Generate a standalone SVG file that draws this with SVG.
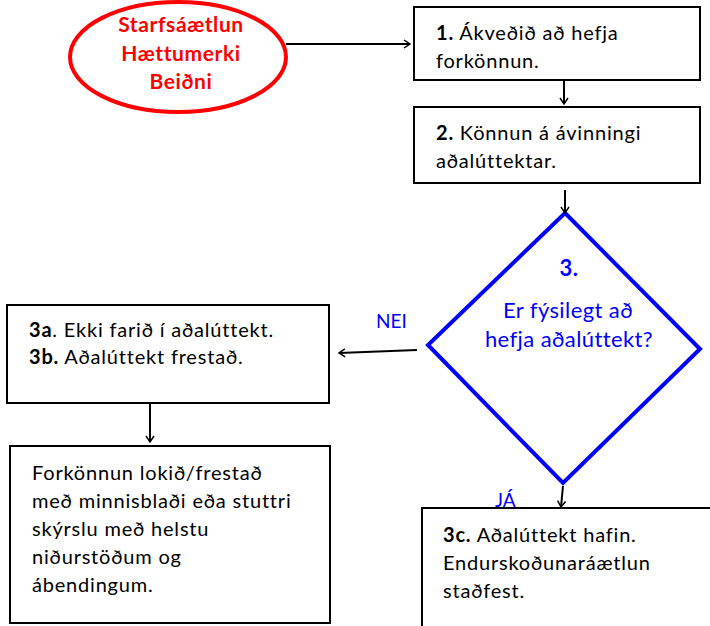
<svg xmlns="http://www.w3.org/2000/svg" width="710" height="626" viewBox="0 0 710 626">
<style>
  .box { fill: #ffffff; stroke: #000000; stroke-width: 2; }
  .t { font-family: Lato, "Open Sans", "DejaVu Sans", sans-serif; font-size: 20px; letter-spacing: 0.8px; fill: #000000; }
  .b { font-weight: bold; }
  .red { font-family: Lato, "Liberation Sans", sans-serif; font-size: 21px; letter-spacing: 0.6px; font-weight: bold; fill: #ff0000; text-anchor: middle; }
  .blue { font-family: Lato, "Open Sans", "DejaVu Sans", sans-serif; font-size: 22px; letter-spacing: 0.4px; fill: #0000ff; text-anchor: middle; }
  .lbl { font-family: Lato, "Open Sans", "DejaVu Sans", sans-serif; font-size: 19px; fill: #0000ff; }
  .conn { stroke: #000000; stroke-width: 2; fill: none; marker-end: url(#arr); }
</style>
<defs>
  <marker id="arr" markerUnits="userSpaceOnUse" markerWidth="12" markerHeight="12" refX="9" refY="5" orient="auto">
    <path d="M3,1 L9,5 L3,9" fill="none" stroke="#000000" stroke-width="1.5"/>
  </marker>
</defs>
<rect width="710" height="626" fill="#ffffff"/>

<g id="start">
  <ellipse cx="178" cy="57" rx="108" ry="55" fill="#ffffff" stroke="#ff0000" stroke-width="4"/>
  <text class="red" x="181" y="32">Starfsáætlun</text>
  <text class="red" x="181" y="61">Hættumerki</text>
  <text class="red" x="181" y="89">Beiðni</text>
</g>

<g id="step1">
  <rect class="box" x="414" y="7" width="286" height="73"/>
  <text class="t" x="436" y="40"><tspan class="b">1.</tspan> Ákveðið að hefja</text>
  <text class="t" x="436" y="68">forkönnun.</text>
</g>

<g id="step2">
  <rect class="box" x="414" y="107" width="286" height="76"/>
  <text class="t" x="436" y="140"><tspan class="b">2.</tspan> Könnun á ávinningi</text>
  <text class="t" x="436" y="168">aðalúttektar.</text>
</g>

<g id="step3">
  <polygon points="565,213 700,349 563,483 428,345" fill="#ffffff" stroke="#0000ff" stroke-width="4"/>
  <text class="blue" x="569" y="276" font-weight="bold">3.</text>
  <text class="blue" x="568" y="318">Er fýsilegt að</text>
  <text class="blue" x="569" y="347">hefja aðalúttekt?</text>
</g>

<g id="step3ab">
  <rect class="box" x="7" y="305" width="322" height="98"/>
  <text class="t" x="29" y="337"><tspan class="b">3a</tspan>. Ekki farið í aðalúttekt.</text>
  <text class="t" x="29" y="364"><tspan class="b">3b.</tspan> Aðalúttekt frestað.</text>
</g>

<g id="end-no">
  <rect class="box" x="10" y="446" width="320" height="177"/>
  <text class="t" x="32" y="480">Forkönnun lokið/frestað</text>
  <text class="t" x="32" y="508">með minnisblaði eða stuttri</text>
  <text class="t" x="32" y="536">skýrslu með helstu</text>
  <text class="t" x="32" y="564">niðurstöðum og</text>
  <text class="t" x="32" y="592">ábendingum.</text>
</g>

<g id="step3c">
  <rect class="box" x="422" y="508" width="300" height="130"/>
  <text class="t" x="443" y="542"><tspan class="b">3c.</tspan> Aðalúttekt hafin.</text>
  <text class="t" x="443" y="570">Endurskoðunaráætlun</text>
  <text class="t" x="443" y="598">staðfest.</text>
</g>

<g id="connectors">
  <line class="conn" x1="286" y1="44" x2="410" y2="44"/>
  <line class="conn" x1="564" y1="81" x2="564" y2="104"/>
  <line class="conn" x1="565" y1="190" x2="565" y2="213"/>
  <line class="conn" x1="417" y1="350" x2="339" y2="353"/>
  <line class="conn" x1="563" y1="486" x2="561" y2="507"/>
  <line class="conn" x1="150" y1="404" x2="150" y2="442"/>
  <text class="lbl" x="376" y="328">NEI</text>
  <text class="lbl" x="495" y="507">JÁ</text>
</g>
</svg>
